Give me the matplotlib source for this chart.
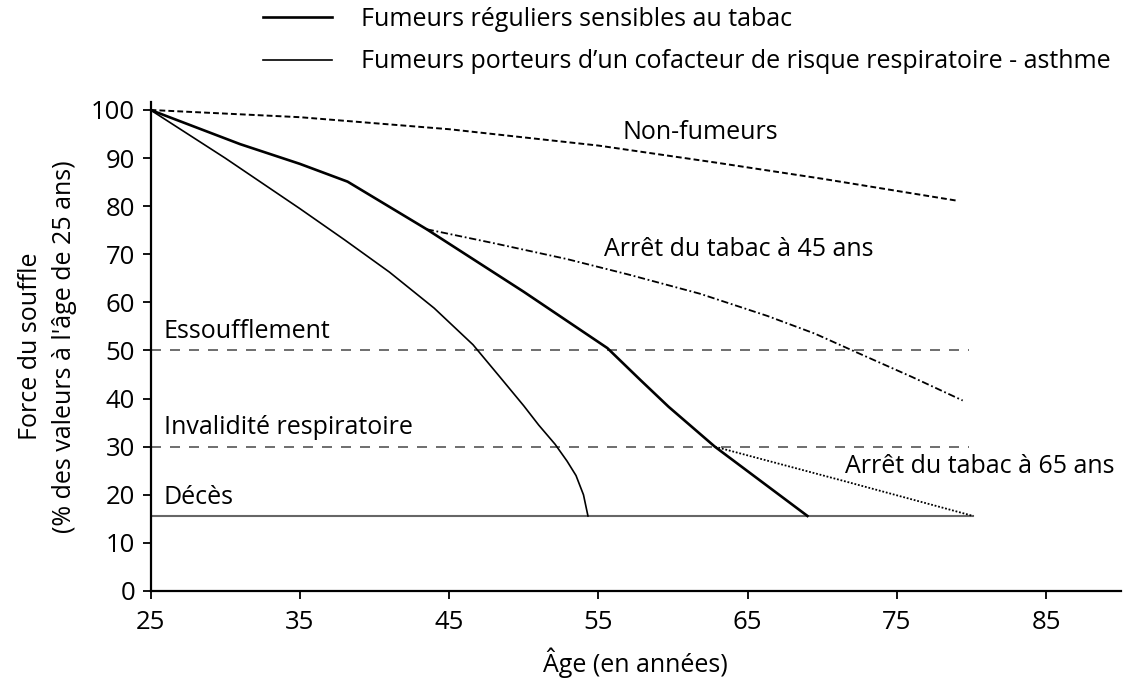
import numpy as np
import matplotlib.pyplot as plt

plt.rcParams['font.family'] = ['Open Sans', 'DejaVu Sans']

# Courbes (âge, % de la force du souffle à 25 ans)
age_nonfum = [25, 35, 45, 55, 63, 70, 79.1]
val_nonfum = [100, 98.5, 96, 92.6, 89, 85.7, 81.1]

age_fum = [25, 31, 35, 38.2, 43.5, 50, 55.6, 57.8, 59.7, 62.8, 69.0]
val_fum = [100, 92.9, 88.8, 85.1, 75.2, 62.2, 50.5, 43.9, 38.3, 30, 15.6]

age_asthme = [25, 30, 35, 38, 41, 44, 46.6, 48.4, 50, 51.0, 52.1, 52.9, 53.5, 54.0, 54.3]
val_asthme = [100, 90, 79.5, 73, 66.3, 58.8, 51.2, 44.5, 38.5, 34.5, 30.5, 27, 24, 20, 15.6]

age_arret45 = [43.5, 48, 52.9, 57, 61.8, 66.3, 69.5, 72.3, 76, 79.4]
val_arret45 = [75.2, 72.3, 69, 65.8, 61.8, 57.2, 53.5, 49.6, 44.5, 39.6]

age_arret65 = [62.8, 71.4, 80.1]
val_arret65 = [30, 22.9, 15.6]

# Seuils
seuil_essouff = 50
seuil_invalid = 30
seuil_deces = 15.6
age_fin_seuil = 79.8
age_fin_deces = 80.1

xticks = [25, 35, 45, 55, 65, 75, 85]
yticks = list(range(0, 101, 10))

fig = plt.figure(figsize=(11.24, 6.8), dpi=100)
ax = fig.add_axes([0.1339, 0.1309, 0.8634, 0.7194])

ax.plot([25, age_fin_seuil], [seuil_essouff] * 2, color='#555555', lw=1.2,
        linestyle=(0, (6, 5.4)))
ax.plot([25, age_fin_seuil], [seuil_invalid] * 2, color='#555555', lw=1.2,
        linestyle=(0, (6, 5.4)))
ax.plot([25, age_fin_deces], [seuil_deces] * 2, color='#666666', lw=1.5)

ax.plot(age_nonfum, val_nonfum, color='black', lw=1.4, linestyle=(0, (3, 1.6)))
ax.plot(age_arret45, val_arret45, color='black', lw=1.3,
        linestyle=(0, (4, 1.5, 1, 1.5)))
ax.plot(age_arret65, val_arret65, color='black', lw=1.3, linestyle=(0, (1, 1)))
l1, = ax.plot(age_fum, val_fum, color='black', lw=1.9)
l2, = ax.plot(age_asthme, val_asthme, color='black', lw=1.2)

fs = 18
ax.text(56.6, 95.4, 'Non-fumeurs', fontsize=fs, va='center')
ax.text(55.4, 71.0, 'Arrêt du tabac à 45 ans', fontsize=fs, va='center')
ax.text(71.5, 25.8, 'Arrêt du tabac à 65 ans', fontsize=fs, va='center')
ax.text(25.9, 53.9, 'Essoufflement', fontsize=fs, va='center')
ax.text(25.9, 33.9, 'Invalidité respiratoire', fontsize=fs, va='center')
ax.text(25.9, 19.5, 'Décès', fontsize=fs, va='center')

ax.set_xlim(25, 90)
ax.set_ylim(0, 101.7)
ax.set_xticks(xticks)
ax.set_yticks(yticks)
ax.tick_params(axis='both', direction='out', length=6, width=1.3, labelsize=18.5)
ax.tick_params(axis='x', pad=8)
ax.tick_params(axis='y', pad=5)
for s in ['top', 'right']:
    ax.spines[s].set_visible(False)
for s in ['left', 'bottom']:
    ax.spines[s].set_linewidth(1.6)

ax.set_xlabel('Âge (en années)', fontsize=fs)
ax.xaxis.set_label_coords(0.5, -0.147)
ax.xaxis.label.set_va('center')
ax.set_ylabel("Force du souffle\n(% des valeurs à l'âge de 25 ans)", fontsize=fs,
              linespacing=1.45)
ax.yaxis.set_label_coords(-0.106, 0.5)
ax.yaxis.label.set_va('center')

fig.legend([l1, l2], ['Fumeurs réguliers sensibles au tabac',
                      'Fumeurs porteurs d’un cofacteur de risque respiratoire - asthme'],
           loc='upper left', bbox_to_anchor=(263 / 1124, 1 - 7 / 680),
           frameon=False, fontsize=fs, handlelength=2.76, handletextpad=1.16,
           labelspacing=0.7, borderpad=0, borderaxespad=0)

plt.savefig('out.png', dpi=100)
